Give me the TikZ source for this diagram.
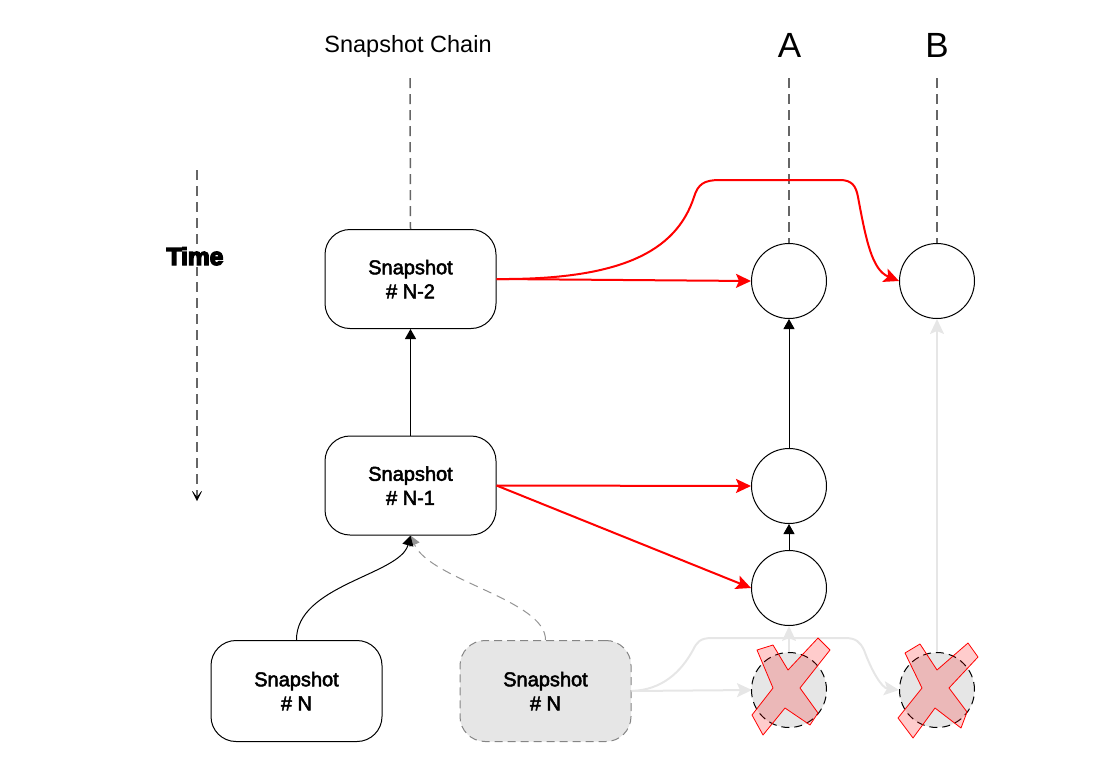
\documentclass[tikz,border=0pt]{standalone}
\usepackage{fontspec}
\setmainfont{Liberation Sans}
\usetikzlibrary{arrows.meta}
\newcommand\strokedtext[2]{\special{pdf:literal direct 2 Tr #1 w}#2\special{pdf:literal direct 0 Tr}}
\definecolor{dgray}{HTML}{666666}
\definecolor{lgray}{HTML}{E6E6E6}
\definecolor{fgray}{HTML}{E6E6E6}
\definecolor{xred}{HTML}{FF0000}
\begin{document}
\begin{tikzpicture}[x=1pt,y=-1pt,
  snap/.style={draw=black, line width=1pt, rounded corners=25pt, minimum width=171pt, minimum height=99pt, align=center, font=\fontsize{20}{24}\selectfont, inner sep=0pt},
  ghostsnap/.style={snap, fill=fgray, draw=dgray!80, dash pattern=on 8pt off 5pt},
  state/.style={circle, draw=black, line width=1pt, minimum size=75pt, inner sep=0pt},
  ghoststate/.style={state, fill=fgray, dash pattern=on 8pt off 5pt},
  guide/.style={draw=dgray, line width=1.5pt, dash pattern=on 10pt off 6pt},
  link/.style={draw=black, line width=1pt, -{Triangle[length=10pt,width=11pt]}},
  dlink/.style={draw=dgray!70, line width=1pt, dash pattern=on 9pt off 6pt, -{Triangle[length=10pt,width=11pt]}},
  redlink/.style={draw=xred, line width=2pt, -{Stealth[length=15pt,width=14pt,inset=3pt]}},
  ghostlink/.style={draw=lgray, line width=2pt, -{Stealth[length=15pt,width=14pt,inset=3pt]}},
  cross/.style={draw=xred, line width=0.8pt, fill=xred, fill opacity=0.2, line join=round},
  titletext/.style={font=\fontsize{23.5}{28}\selectfont, inner sep=0pt},
  bigtext/.style={font=\fontsize{35}{40}\selectfont, inner sep=0pt},
]
\useasboundingbox (0,0) rectangle (1106,774);

% titles
\node[titletext, anchor=base] (ttl) at (408,52) {Snapshot Chain};
\node[bigtext, anchor=base] (ttlA) at (789.5,57) {A};
\node[bigtext, anchor=base] (ttlB) at (937,57) {B};

% time axis
\coordinate (t0) at (197,170);
\coordinate (t1) at (197,501);
\draw[guide, -{Stealth[length=12pt,width=12pt,inset=8pt,color=black,line width=0.5pt]}] (t0) -- (t1);
\node[fill=white, inner sep=2pt, anchor=base, font=\bfseries\fontsize{24.5}{28}\selectfont] (time) at (195,265) {\strokedtext{1.4}{Time}};

% snapshot nodes
\node[snap] (sN2) at (410.5,279) {\strokedtext{0.5}{Snapshot}\\\strokedtext{0.5}{\# N-2}};
\node[snap] (sN1) at (410.5,485.5) {\strokedtext{0.5}{Snapshot}\\\strokedtext{0.5}{\# N-1}};
\node[snap, minimum height=101pt] (sNa) at (296.5,691) {\strokedtext{0.5}{Snapshot}\\\strokedtext{0.5}{\# N}};
\node[ghostsnap, minimum height=101pt] (sNb) at (545.5,691) {\strokedtext{0.5}{Snapshot}\\\strokedtext{0.5}{\# N}};

% state circles
\node[state] (a1) at (789,281) {};
\node[state] (a2) at (789,486) {};
\node[state] (a3) at (789,588) {};
\node[state] (b1) at (937,281) {};

% guide lines
\coordinate (g0) at (410,78);
\coordinate (gA) at (789,78);
\coordinate (gB) at (937,78);
\draw[guide] (g0) -- (sN2.north);
\draw[guide] (gA) -- (a1.north);
\draw[guide] (gB) -- (b1.north);

% ghost connectors
\draw[ghostlink] (sNb.east) -- (790-38,690);
\draw[ghostlink] (sNb.east) .. controls (662,690) and (681,672) .. (693,650)
  .. controls (697,642) and (700,638) .. (712,638) -- (845,638)
  .. controls (856,638) and (860,642) .. (864,650)
  .. controls (872,672) and (882,688) .. (937-38,690);

% ghost circles
\node[ghoststate] (a4) at (789,690) {};
\node[ghoststate] (b2) at (937,690) {};
\draw[ghostlink] (a4.north) -- (a3.south);
\draw[ghostlink] (b2.north) -- (b1.south);

% chain connectors
\draw[link] (sN1.north) -- (sN2.south);
\draw[dlink] (sNb.north) .. controls (546,600) and (430,580) .. (sN1.south);
\draw[link] (sNa.north) .. controls (296,585) and (400,575) .. (sN1.south);
\draw[link] (a2.north) -- (a1.south);
\draw[link] (a3.north) -- (a2.south);

% red connectors
\draw[redlink] (sN2.east) -- (a1.west);
\draw[redlink] (sN2.east) .. controls (620,280) and (676,252) .. (694,197)
  .. controls (698,184) and (704,180) .. (720,180) -- (840,180)
  .. controls (852,180) and (856,186) .. (858,197)
  .. controls (866,240) and (872,270) .. (b1.west);
\draw[redlink] (sN1.east) -- (a2.west);
\draw[redlink] (sN1.east) -- (a3.west);

% crosses
\draw[cross, shift={(a4.center)}] (-32,-40) -- (-16,-45) -- (-1,-20) -- (29,-52) -- (41,-40)
  -- (11,-2) -- (29,23) -- (21,35) -- (-4,18) -- (-26,45) -- (-37,25) -- (-16,-2) -- cycle;
\draw[cross, shift={(b2.center)}] (-32,-37) -- (-17,-46) -- (0,-20) -- (31,-47) -- (41,-33)
  -- (12,-2) -- (30,22) -- (24,38) -- (-2,18) -- (-24,48) -- (-39,28) -- (-15,-2) -- cycle;
\end{tikzpicture}
\end{document}
